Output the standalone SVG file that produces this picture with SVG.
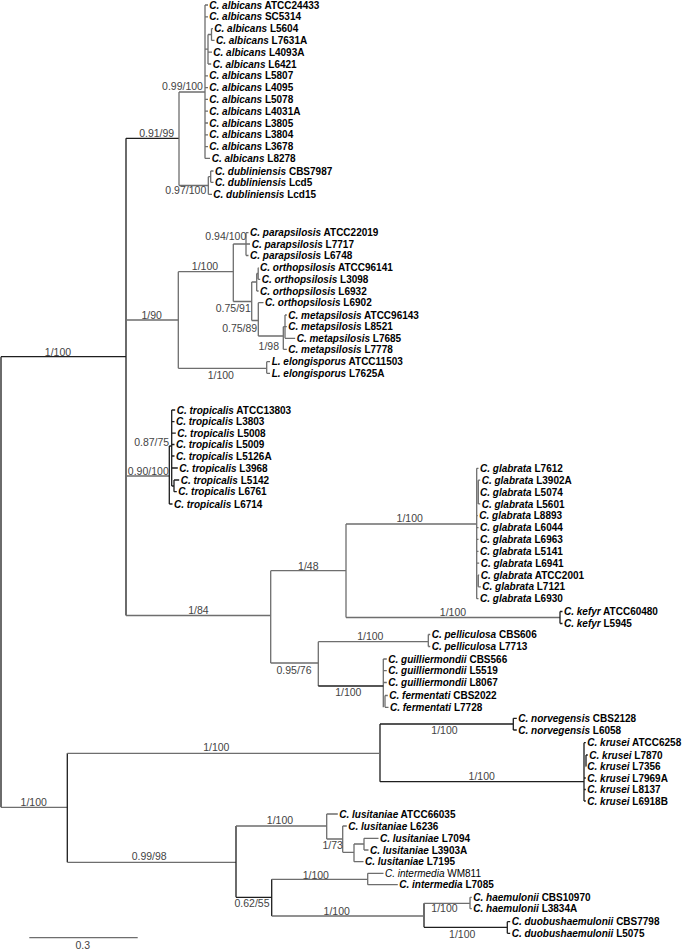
<svg xmlns="http://www.w3.org/2000/svg" width="685" height="950" viewBox="0 0 685 950">
<style>
.t{font-family:"Liberation Sans",Arial,sans-serif;font-size:10px;font-weight:bold;fill:#000}
.t tspan.s{font-style:italic}
.w{font-weight:normal}
.v{font-family:"Liberation Sans",Arial,sans-serif;font-size:10.5px;fill:#444;text-anchor:middle}
.g path{fill:none;stroke:#6e6e6e;stroke-width:1.3}
.g path.k{stroke:#1e1e1e}
</style>
<rect width="685" height="950" fill="#fff"/>
<g id="connectors" class="g">
<path class="k" d="M1 356.7V807.3M1 356.7H126M126 138.3V615.5M126 138.3H179"/>
<path d="M1 807.3H67.3M126 320H178.3M126 476H169.3M126 615.5H270.7"/>
<path d="M179 92V185.5M179 92H205M179 185.5H208.3"/>
<path d="M205 5V158.4M205 5H208M205 16.8H208M205 49.2H208M208 34.5V64M208 34.5H211.5M211.5 28.6V40.4M211.5 28.6H213M211.5 40.4H214.5M208 52.2H212M208 64H211.2M205 75.8H208M205 87.6H208M205 99.4H208M205 111.2H208M205 123H208M205 134.8H208M205 146.6H208M205 158.4H210"/>
<path d="M208.3 176.7V194.3M208.3 176.7H210.7M210.7 171V182.3M210.7 171H213.5M210.7 182.3H213.5M208.3 194.3H212"/>
<path d="M178.3 271.7V368.3M178.3 271.7H233.3M178.3 368.3H266.7"/>
<path d="M233.3 244V301.5M233.3 244H246M233.3 301.5H251.7M246 232.7V255.5M246 232.7H248.5M246 244H250M246 255.5H248.5"/>
<path d="M251.7 282V320.5M251.7 282H256.7M251.7 320.5H258.3M256.7 273.5V291M256.7 273.5H258.2M258.2 267.7V279.3M258.2 267.7H258.6M258.2 279.3H260.2M256.7 291H258.6"/>
<path d="M258.3 302.7V336M258.3 302.7H263.5M258.3 336H283.3M283.3 326.7V349.3M283.3 326.7H285M285 315V338.3M285 315H286.8M285 326.7H286.8M285 338.3H295.2M283.3 349.3H286.8"/>
<path d="M266.7 361.7V373.3M266.7 361.7H270M266.7 373.3H270"/>
<path class="k" d="M169.3 446V504M169.3 446H171.7M171.7 410V486M171.7 410H175.2M171.7 421.7H174.5M171.7 433.2H175.8M171.7 444.5H174.5M171.7 456H174.5M171.7 468H177.8M171.7 486H174M174 480V491.7M174 480H179.2M174 491.7H176.8M169.3 504H172.5"/>
<path d="M270.7 570.7V663M270.7 570.7H346M270.7 663H318.3M346 524V617.5M346 524H476.7M346 617.5H560"/>
<path d="M476.7 468.3V598.7M476.7 468.3H478.5M478.3 480.2V503.9M478.3 480.2H480.2M478.3 492H478.5M478.3 503.9H480.2M476.7 515.7H477.8M476.7 527.6H478.5M476.7 539.4H478.5M476.7 551.3H478.5M476.7 563.1H479.2M478.3 575V586.8M478.3 575H479.2M478.3 586.8H480.8M476.7 598.7H478.5"/>
<path class="k" d="M560 611.5V623.5M560 611.5H562.5M560 623.5H562.5"/>
<path d="M318.3 641.7V686M318.3 641.7H428.3M428.3 634.5V646.5M428.3 634.5H430.2M428.3 646.5H430.2M383.3 659V707.3M383.3 659H386.8M383.3 670.7H386.8M383.3 682.5H386.8M385 695.5V707.3M385 695.5H387.8M385 707.3H388.5"/>
<path class="k" d="M318.3 686H383.3"/>
<path class="k" d="M67.3 753.3V862.3M380 724V781.7M380 724H513.3M380 781.7H584M584 742.7V801M584 742.7H585.8M586 755V766.5M586 755H587.8M586 766.5H585.8M584 778H585.8M584 789.5H585.8M584 801H585.8M513.3 718.3V730M513.3 718.3H516.8M513.3 730H516.8"/>
<path d="M67.3 753.3H380M67.3 862.3H236"/>
<path class="k" d="M236 826V897.3M236 897.3H271.7M271.7 879.3V916M424 903.3V927.3M424 927.3H507.3M507.3 921.7V933.3M507.3 921.7H510.2M507.3 933.3H510.2"/>
<path d="M236 826H326.7M326.7 814V839M326.7 814H337.8M326.7 839H342.7M342.7 826V852.3M342.7 826H346.8M342.7 852.3H354M354 844V861.7M354 844H364M354 861.7H363.5M364 838.3V850M364 838.3H378.5M364 850H368.5"/>
<path d="M271.7 879.3H367.7M367.7 873.3V884.7M367.7 873.3H383.5M367.7 884.7H397.8M271.7 916H424M424 903.3H470M470 897.3V908.7M470 897.3H471.8M470 908.7H471.8"/>
<path d="M29.3 937.7H137.7"/>
</g>
<g id="support-values">
<text class="v" x="182.5" y="90.4">0.99/100</text>
<text class="v" x="156.7" y="137">0.91/99</text>
<text class="v" x="185.8" y="193.7">0.97/100</text>
<text class="v" x="58" y="355.5">1/100</text>
<text class="v" x="225.8" y="240.4">0.94/100</text>
<text class="v" x="205" y="270.4">1/100</text>
<text class="v" x="151.7" y="318.7">1/90</text>
<text class="v" x="233.3" y="312">0.75/91</text>
<text class="v" x="239.7" y="332">0.75/89</text>
<text class="v" x="268.8" y="350.4">1/98</text>
<text class="v" x="220.8" y="378.7">1/100</text>
<text class="v" x="151.7" y="446.4">0.87/75</text>
<text class="v" x="148.3" y="475">0.90/100</text>
<text class="v" x="409.7" y="522">1/100</text>
<text class="v" x="308.3" y="569.7">1/48</text>
<text class="v" x="198.4" y="614.3">1/84</text>
<text class="v" x="453" y="616">1/100</text>
<text class="v" x="370.3" y="640.4">1/100</text>
<text class="v" x="294" y="673.7">0.95/76</text>
<text class="v" x="348.3" y="696.4">1/100</text>
<text class="v" x="444.5" y="733.7">1/100</text>
<text class="v" x="216.3" y="751">1/100</text>
<text class="v" x="481.7" y="780.4">1/100</text>
<text class="v" x="33.7" y="806.4">1/100</text>
<text class="v" x="280" y="824.4">1/100</text>
<text class="v" x="332.7" y="848.7">1/73</text>
<text class="v" x="149.2" y="860.4">0.99/98</text>
<text class="v" x="315.8" y="878.7">1/100</text>
<text class="v" x="252" y="907">0.62/55</text>
<text class="v" x="444.5" y="912">1/100</text>
<text class="v" x="336.7" y="915.4">1/100</text>
<text class="v" x="462.2" y="937.7">1/100</text>
</g>
<g id="scale-bar"><text class="v" x="82.7" y="948.7">0.3</text></g>
<g id="tip-albicans-ATCC24433"><text class="t" x="209.3" y="8.6"><tspan class="s">C. albicans</tspan> ATCC24433</text></g>
<g id="tip-albicans-SC5314"><text class="t" x="209.3" y="20.4"><tspan class="s">C. albicans</tspan> SC5314</text></g>
<g id="tip-albicans-L5604"><text class="t" x="214.3" y="32.2"><tspan class="s">C. albicans</tspan> L5604</text></g>
<g id="tip-albicans-L7631A"><text class="t" x="216" y="44"><tspan class="s">C. albicans</tspan> L7631A</text></g>
<g id="tip-albicans-L4093A"><text class="t" x="213.3" y="55.8"><tspan class="s">C. albicans</tspan> L4093A</text></g>
<g id="tip-albicans-L6421"><text class="t" x="212.7" y="67.6"><tspan class="s">C. albicans</tspan> L6421</text></g>
<g id="tip-albicans-L5807"><text class="t" x="209.3" y="79.4"><tspan class="s">C. albicans</tspan> L5807</text></g>
<g id="tip-albicans-L4095"><text class="t" x="209.3" y="91.2"><tspan class="s">C. albicans</tspan> L4095</text></g>
<g id="tip-albicans-L5078"><text class="t" x="209.3" y="103"><tspan class="s">C. albicans</tspan> L5078</text></g>
<g id="tip-albicans-L4031A"><text class="t" x="209.3" y="114.8"><tspan class="s">C. albicans</tspan> L4031A</text></g>
<g id="tip-albicans-L3805"><text class="t" x="209.3" y="126.6"><tspan class="s">C. albicans</tspan> L3805</text></g>
<g id="tip-albicans-L3804"><text class="t" x="209.3" y="138.4"><tspan class="s">C. albicans</tspan> L3804</text></g>
<g id="tip-albicans-L3678"><text class="t" x="209.3" y="150.2"><tspan class="s">C. albicans</tspan> L3678</text></g>
<g id="tip-albicans-L8278"><text class="t" x="211.7" y="162"><tspan class="s">C. albicans</tspan> L8278</text></g>
<g id="tip-dubliniensis-CBS7987"><text class="t" x="215" y="174.6"><tspan class="s">C. dubliniensis</tspan> CBS7987</text></g>
<g id="tip-dubliniensis-Lcd5"><text class="t" x="215" y="185.9"><tspan class="s">C. dubliniensis</tspan> Lcd5</text></g>
<g id="tip-dubliniensis-Lcd15"><text class="t" x="213.3" y="197.9"><tspan class="s">C. dubliniensis</tspan> Lcd15</text></g>
<g id="tip-parapsilosis-ATCC22019"><text class="t" x="250" y="236.3"><tspan class="s">C. parapsilosis</tspan> ATCC22019</text></g>
<g id="tip-parapsilosis-L7717"><text class="t" x="251.7" y="247.6"><tspan class="s">C. parapsilosis</tspan> L7717</text></g>
<g id="tip-parapsilosis-L6748"><text class="t" x="250" y="259.1"><tspan class="s">C. parapsilosis</tspan> L6748</text></g>
<g id="tip-orthopsilosis-ATCC96141"><text class="t" x="260" y="271.3"><tspan class="s">C. orthopsilosis</tspan> ATCC96141</text></g>
<g id="tip-orthopsilosis-L3098"><text class="t" x="261.7" y="282.9"><tspan class="s">C. orthopsilosis</tspan> L3098</text></g>
<g id="tip-orthopsilosis-L6932"><text class="t" x="260" y="294.6"><tspan class="s">C. orthopsilosis</tspan> L6932</text></g>
<g id="tip-orthopsilosis-L6902"><text class="t" x="265" y="306.3"><tspan class="s">C. orthopsilosis</tspan> L6902</text></g>
<g id="tip-metapsilosis-ATCC96143"><text class="t" x="288.3" y="318.6"><tspan class="s">C. metapsilosis</tspan> ATCC96143</text></g>
<g id="tip-metapsilosis-L8521"><text class="t" x="288.3" y="330.3"><tspan class="s">C. metapsilosis</tspan> L8521</text></g>
<g id="tip-metapsilosis-L7685"><text class="t" x="296.7" y="341.9"><tspan class="s">C. metapsilosis</tspan> L7685</text></g>
<g id="tip-metapsilosis-L7778"><text class="t" x="288.3" y="352.9"><tspan class="s">C. metapsilosis</tspan> L7778</text></g>
<g id="tip-elongisporus-ATCC11503"><text class="t" x="271.7" y="365.3"><tspan class="s">L. elongisporus</tspan> ATCC11503</text></g>
<g id="tip-elongisporus-L7625A"><text class="t" x="271.7" y="376.9"><tspan class="s">L. elongisporus</tspan> L7625A</text></g>
<g id="tip-tropicalis-ATCC13803"><text class="t" x="176.7" y="413.6"><tspan class="s">C. tropicalis</tspan> ATCC13803</text></g>
<g id="tip-tropicalis-L3803"><text class="t" x="176" y="425.3"><tspan class="s">C. tropicalis</tspan> L3803</text></g>
<g id="tip-tropicalis-L5008"><text class="t" x="177.3" y="436.8"><tspan class="s">C. tropicalis</tspan> L5008</text></g>
<g id="tip-tropicalis-L5009"><text class="t" x="176" y="448.1"><tspan class="s">C. tropicalis</tspan> L5009</text></g>
<g id="tip-tropicalis-L5126A"><text class="t" x="176" y="459.6"><tspan class="s">C. tropicalis</tspan> L5126A</text></g>
<g id="tip-tropicalis-L3968"><text class="t" x="179.3" y="471.6"><tspan class="s">C. tropicalis</tspan> L3968</text></g>
<g id="tip-tropicalis-L5142"><text class="t" x="180.7" y="483.6"><tspan class="s">C. tropicalis</tspan> L5142</text></g>
<g id="tip-tropicalis-L6761"><text class="t" x="178.3" y="495.3"><tspan class="s">C. tropicalis</tspan> L6761</text></g>
<g id="tip-tropicalis-L6714"><text class="t" x="174" y="507.6"><tspan class="s">C. tropicalis</tspan> L6714</text></g>
<g id="tip-glabrata-L7612"><text class="t" x="480" y="471.9"><tspan class="s">C. glabrata</tspan> L7612</text></g>
<g id="tip-glabrata-L3902A"><text class="t" x="481.7" y="483.8"><tspan class="s">C. glabrata</tspan> L3902A</text></g>
<g id="tip-glabrata-L5074"><text class="t" x="480" y="495.6"><tspan class="s">C. glabrata</tspan> L5074</text></g>
<g id="tip-glabrata-L5601"><text class="t" x="481.7" y="507.5"><tspan class="s">C. glabrata</tspan> L5601</text></g>
<g id="tip-glabrata-L8893"><text class="t" x="479.3" y="519.3"><tspan class="s">C. glabrata</tspan> L8893</text></g>
<g id="tip-glabrata-L6044"><text class="t" x="480" y="531.2"><tspan class="s">C. glabrata</tspan> L6044</text></g>
<g id="tip-glabrata-L6963"><text class="t" x="480" y="543"><tspan class="s">C. glabrata</tspan> L6963</text></g>
<g id="tip-glabrata-L5141"><text class="t" x="480" y="554.9"><tspan class="s">C. glabrata</tspan> L5141</text></g>
<g id="tip-glabrata-L6941"><text class="t" x="480.7" y="566.7"><tspan class="s">C. glabrata</tspan> L6941</text></g>
<g id="tip-glabrata-ATCC2001"><text class="t" x="480.7" y="578.6"><tspan class="s">C. glabrata</tspan> ATCC2001</text></g>
<g id="tip-glabrata-L7121"><text class="t" x="482.3" y="590.4"><tspan class="s">C. glabrata</tspan> L7121</text></g>
<g id="tip-glabrata-L6930"><text class="t" x="480" y="602.3"><tspan class="s">C. glabrata</tspan> L6930</text></g>
<g id="tip-kefyr-ATCC60480"><text class="t" x="564" y="615.1"><tspan class="s">C. kefyr</tspan> ATCC60480</text></g>
<g id="tip-kefyr-L5945"><text class="t" x="564" y="627.1"><tspan class="s">C. kefyr</tspan> L5945</text></g>
<g id="tip-pelliculosa-CBS606"><text class="t" x="431.7" y="638.1"><tspan class="s">C. pelliculosa</tspan> CBS606</text></g>
<g id="tip-pelliculosa-L7713"><text class="t" x="431.7" y="650.1"><tspan class="s">C. pelliculosa</tspan> L7713</text></g>
<g id="tip-guilliermondii-CBS566"><text class="t" x="388.3" y="662.6"><tspan class="s">C. guilliermondii</tspan> CBS566</text></g>
<g id="tip-guilliermondii-L5519"><text class="t" x="388.3" y="674.3"><tspan class="s">C. guilliermondii</tspan> L5519</text></g>
<g id="tip-guilliermondii-L8067"><text class="t" x="388.3" y="686.1"><tspan class="s">C. guilliermondii</tspan> L8067</text></g>
<g id="tip-fermentati-CBS2022"><text class="t" x="389.3" y="699.1"><tspan class="s">C. fermentati</tspan> CBS2022</text></g>
<g id="tip-fermentati-L7728"><text class="t" x="390" y="710.9"><tspan class="s">C. fermentati</tspan> L7728</text></g>
<g id="tip-norvegensis-CBS2128"><text class="t" x="518.3" y="721.9"><tspan class="s">C. norvegensis</tspan> CBS2128</text></g>
<g id="tip-norvegensis-L6058"><text class="t" x="518.3" y="733.6"><tspan class="s">C. norvegensis</tspan> L6058</text></g>
<g id="tip-krusei-ATCC6258"><text class="t" x="587.3" y="746.3"><tspan class="s">C. krusei</tspan> ATCC6258</text></g>
<g id="tip-krusei-L7870"><text class="t" x="589.3" y="758.6"><tspan class="s">C. krusei</tspan> L7870</text></g>
<g id="tip-krusei-L7356"><text class="t" x="587.3" y="770.1"><tspan class="s">C. krusei</tspan> L7356</text></g>
<g id="tip-krusei-L7969A"><text class="t" x="587.3" y="781.6"><tspan class="s">C. krusei</tspan> L7969A</text></g>
<g id="tip-krusei-L8137"><text class="t" x="587.3" y="793.1"><tspan class="s">C. krusei</tspan> L8137</text></g>
<g id="tip-krusei-L6918B"><text class="t" x="587.3" y="804.6"><tspan class="s">C. krusei</tspan> L6918B</text></g>
<g id="tip-lusitaniae-ATCC66035"><text class="t" x="339.3" y="817.6"><tspan class="s">C. lusitaniae</tspan> ATCC66035</text></g>
<g id="tip-lusitaniae-L6236"><text class="t" x="348.3" y="829.6"><tspan class="s">C. lusitaniae</tspan> L6236</text></g>
<g id="tip-lusitaniae-L7094"><text class="t" x="380" y="841.9"><tspan class="s">C. lusitaniae</tspan> L7094</text></g>
<g id="tip-lusitaniae-L3903A"><text class="t" x="370" y="853.6"><tspan class="s">C. lusitaniae</tspan> L3903A</text></g>
<g id="tip-lusitaniae-L7195"><text class="t" x="365" y="865.3"><tspan class="s">C. lusitaniae</tspan> L7195</text></g>
<g id="tip-intermedia-WM811"><text class="t w" x="385" y="876.9"><tspan class="s">C. intermedia</tspan> WM811</text></g>
<g id="tip-intermedia-L7085"><text class="t" x="399.3" y="888.3"><tspan class="s">C. intermedia</tspan> L7085</text></g>
<g id="tip-haemulonii-CBS10970"><text class="t" x="473.3" y="900.9"><tspan class="s">C. haemulonii</tspan> CBS10970</text></g>
<g id="tip-haemulonii-L3834A"><text class="t" x="473.3" y="912.3"><tspan class="s">C. haemulonii</tspan> L3834A</text></g>
<g id="tip-duobushaemulonii-CBS7798"><text class="t" x="511.7" y="925.3"><tspan class="s">C. duobushaemulonii</tspan> CBS7798</text></g>
<g id="tip-duobushaemulonii-L5075"><text class="t" x="511.7" y="936.9"><tspan class="s">C. duobushaemulonii</tspan> L5075</text></g>
</svg>
